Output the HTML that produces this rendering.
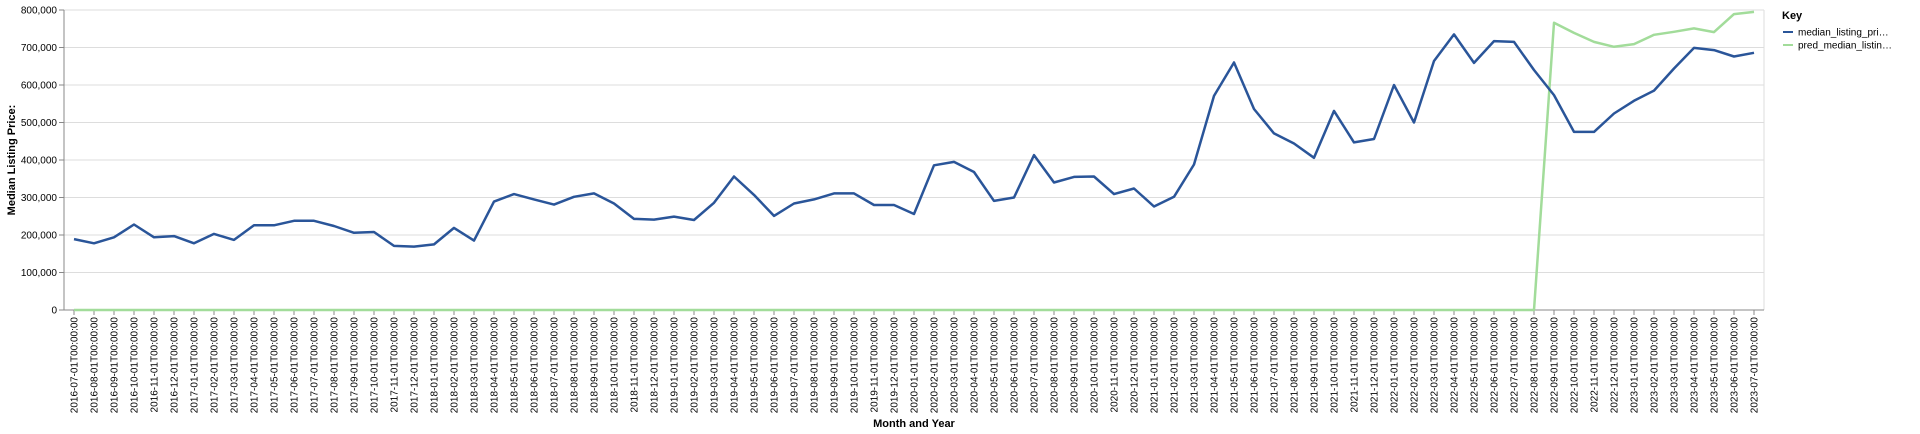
<!DOCTYPE html>
<html><head><meta charset="utf-8"><style>
html,body{margin:0;padding:0;background:#fff;width:1920px;height:434px;overflow:hidden}
svg{display:block;font-family:"Liberation Sans",Arial,sans-serif}
</style></head><body>
<svg id="chart" width="1920" height="434" viewBox="0 0 1920 434" xmlns="http://www.w3.org/2000/svg">
<g id="grid"></g>
<g id="yaxis"></g>
<g id="xaxis"></g>
<g id="series"></g>
<text transform="translate(15,160) rotate(-90)" text-anchor="middle" font-size="11" font-weight="bold" fill="#000">Median Listing Price:</text>
<text x="914" y="427" text-anchor="middle" font-size="11" font-weight="bold" fill="#000">Month and Year</text>
<g>
<text x="1782" y="19" font-size="11" font-weight="bold" fill="#000">Key</text>
<g>
<line x1="1783" y1="32" x2="1793" y2="32" stroke="#2a5599" stroke-width="2"/>
<text x="1798" y="35.5" font-size="10" fill="#000">median_listing_pri…</text></g>
<g>
<line x1="1783" y1="45" x2="1793" y2="45" stroke="#a2dc9a" stroke-width="2"/>
<text x="1798" y="48.5" font-size="10" fill="#000">pred_median_listin…</text></g>
</g>
</svg>
<script>
const startYear = 2016, startMonth = 7, monthCount = 85;
const medianValues = [189,178,194,228,194,197,178,203,187,226,226,238,238,224,206,208,171,169,175,219,185,289,309,295,281,302,311,284,243,241,249,240,286,356,307,251,284,295,311,311,280,280,256,386,395,368,291,300,413,340,355,356,309,324,276,302,388,571,660,536,471,444,406,531,447,456,600,500,664,735,659,717,715,640,573,475,475,524,558,585,644,699,693,676,686].map(v=>v*1000);
const predValues = [0,0,0,0,0,0,0,0,0,0,0,0,0,0,0,0,0,0,0,0,0,0,0,0,0,0,0,0,0,0,0,0,0,0,0,0,0,0,0,0,0,0,0,0,0,0,0,0,0,0,0,0,0,0,0,0,0,0,0,0,0,0,0,0,0,0,0,0,0,0,0,0,0,0,766,739,715,702,709,734,742,751,741,789,795].map(v=>v*1000);
const yTicks = [0,100000,200000,300000,400000,500000,600000,700000,800000];

const categories = [];
for (let i=0;i<monthCount;i++){
  const m0 = startMonth-1+i, y = startYear+Math.floor(m0/12), m = m0%12+1;
  categories.push(y+'-'+String(m).padStart(2,'0')+'-01T00:00:00');
}
const NS='http://www.w3.org/2000/svg';
const L=64,R=1764,T=10,B=310,YMAX=800000;
const step=(R-L)/categories.length;
const xs=i=>L+step/2+i*step;
const ys=v=>B-(v/YMAX)*(B-T);
function mk(tag,attrs,parent){const e=document.createElementNS(NS,tag);for(const k in attrs)e.setAttribute(k,attrs[k]);parent.appendChild(e);return e;}
const grid=document.getElementById('grid'),ya=document.getElementById('yaxis'),xa=document.getElementById('xaxis'),se=document.getElementById('series');
yTicks.forEach(t=>{
  const g=mk('line',{x1:L,x2:R,y1:ys(t),y2:ys(t),stroke:'#ddd','stroke-width':1},grid);
  
  
  mk('line',{x1:L-5,x2:L,y1:ys(t),y2:ys(t),stroke:'#888'},ya);
  const tx=mk('text',{x:L-7,y:ys(t)+3.5,'text-anchor':'end','font-size':10,fill:'#000'},ya);
  tx.textContent=t.toLocaleString('en-US');
  
  
});
mk('line',{x1:R,x2:R,y1:T,y2:B,stroke:'#ddd'},grid);
mk('line',{x1:L,x2:L,y1:T,y2:B,stroke:'#888'},ya);
mk('line',{x1:L,x2:R,y1:B,y2:B,stroke:'#888'},xa);
categories.forEach((c,i)=>{
  const x=xs(i);
  mk('line',{x1:x,x2:x,y1:B,y2:B+5,stroke:'#888'},xa);
  const tx=mk('text',{transform:'translate('+(x+3.5)+','+(B+7)+') rotate(-90)','text-anchor':'end','font-size':10,fill:'#000'},xa);
  tx.textContent=c;
  
  
});
function line(vals,color,name){
  const d=vals.map((v,i)=>(i?'L':'M')+xs(i).toFixed(1)+','+ys(v).toFixed(1)).join('');
  const p=mk('path',{d:d,fill:'none',stroke:color,'stroke-width':2.5,'stroke-linejoin':'round'},se);
  
  
}
line(predValues,'#a2dc9a','pred-median-line');
line(medianValues,'#2a5599','median-listing-line');
</script>
</body></html>
